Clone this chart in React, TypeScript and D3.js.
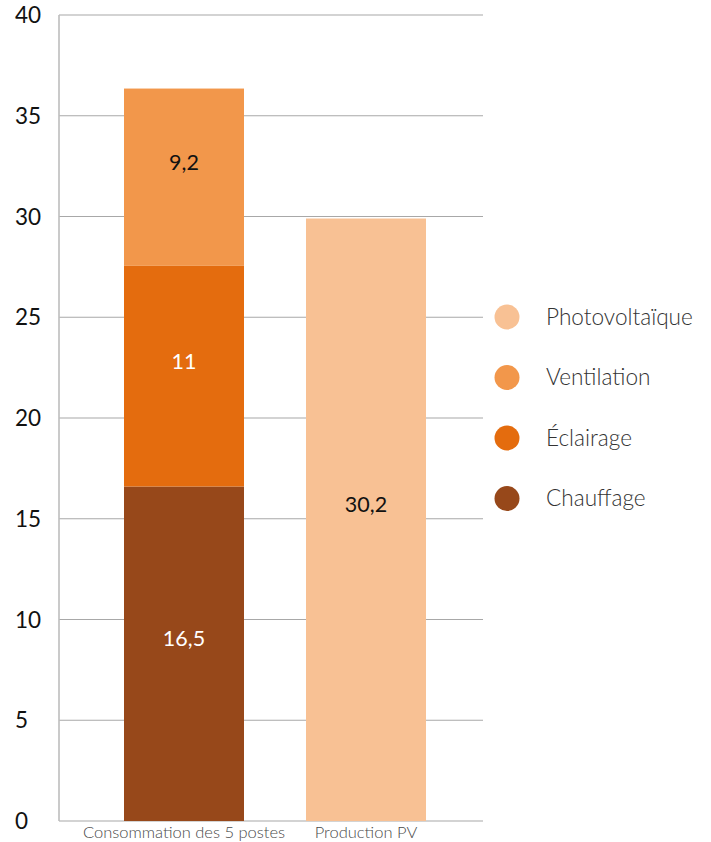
import React from 'react';
import * as d3 from 'd3';

// bar heights, labels as printed
const categories = ['Consommation des 5 postes', 'Production PV'];
const chauffage = [16.6, 0];
const eclairage = [10.95, 0];
const ventilation = [8.8, 0];
const photovoltaique = [0, 29.9];

const chauffageLabels = ['16,5', ''];
const eclairageLabels = ['11', ''];
const ventilationLabels = ['9,2', ''];
const photovoltaiqueLabels = ['', '30,2'];

const yTicks = [0, 5, 10, 15, 20, 25, 30, 35, 40];

const series = [
  { key: 'Chauffage', values: chauffage, labels: chauffageLabels, color: '#97481a', text: '#ffffff' },
  { key: 'Éclairage', values: eclairage, labels: eclairageLabels, color: '#e46c0e', text: '#ffffff' },
  { key: 'Ventilation', values: ventilation, labels: ventilationLabels, color: '#f2974b', text: '#111111' },
  { key: 'Photovoltaïque', values: photovoltaique, labels: photovoltaiqueLabels, color: '#f8c194', text: '#111111' },
];

const legendOrder = ['Photovoltaïque', 'Ventilation', 'Éclairage', 'Chauffage'];

const W = 711;
const H = 842;
const FONT = 'Lato, "Open Sans", sans-serif';

export default function App() {
  const y = d3.scaleLinear().domain([0, 40]).range([821, 15]);
  const x = d3.scaleBand<string>()
    .domain(categories)
    .range([124, 426])
    .paddingInner(62 / 182)
    .paddingOuter(0);

  const rows = categories.map((c, i) => {
    const r: Record<string, any> = { cat: c };
    series.forEach(s => { r[s.key] = s.values[i]; });
    return r;
  });
  const stacked = d3.stack<any>().keys(series.map(s => s.key))(rows);

  const axisX = 59;
  const gridRight = 483;

  return (
    <svg width={W} height={H} style={{ position: 'absolute', left: 0, top: 0, background: '#fff' }}>
      {/* gridlines */}
      {yTicks.map(t => (
        <line key={t} x1={axisX} x2={gridRight} y1={y(t)} y2={y(t)} stroke="#a8a8a8" strokeWidth={1.2} />
      ))}
      {/* y axis line */}
      <line x1={axisX} x2={axisX} y1={y(40)} y2={y(0)} stroke="#bdbdbd" strokeWidth={1.6} />
      {/* tick labels */}
      {yTicks.map(t => (
        <text key={t} x={15} y={y(t)} dy="0.36em" fontFamily={FONT} fontSize={22.5} fill="#111">{t}</text>
      ))}

      {/* bars */}
      {stacked.map((layer, li) => {
        const s = series[li];
        return (
          <g key={s.key}>
            {layer.map((d, i) => {
              const h = y(d[0]) - y(d[1]);
              if (h <= 0) return null;
              const cat = categories[i];
              const cx = (x(cat) as number) + x.bandwidth() / 2;
              const ly = y((d[0] + d[1]) / 2) - 15;
              return (
                <g key={cat}>
                  <rect x={x(cat)} y={y(d[1])} width={x.bandwidth()} height={h} fill={s.color} />
                  <text x={cx} y={ly} dy="0.36em" textAnchor="middle" fontFamily={FONT}
                    fontSize={21.5} fontWeight={400} fill={s.text}>{s.labels[i]}</text>
                </g>
              );
            })}
          </g>
        );
      })}

      {/* category labels */}
      {categories.map(c => (
        <text key={c} x={(x(c) as number) + x.bandwidth() / 2} y={838} textAnchor="middle"
          fontFamily={FONT} fontWeight={300} fontSize={16.5} fill="#4a4a4a">{c}</text>
      ))}

      {/* legend */}
      {legendOrder.map((k, i) => {
        const s = series.find(d => d.key === k)!;
        const cy = 317 + i * 60.5;
        return (
          <g key={k}>
            <circle cx={507} cy={cy} r={12.5} fill={s.color} />
            <text x={546} y={cy} dy="0.35em" fontFamily={FONT} fontWeight={300} fontSize={22.6} fill="#333">{k}</text>
          </g>
        );
      })}
    </svg>
  );
}
